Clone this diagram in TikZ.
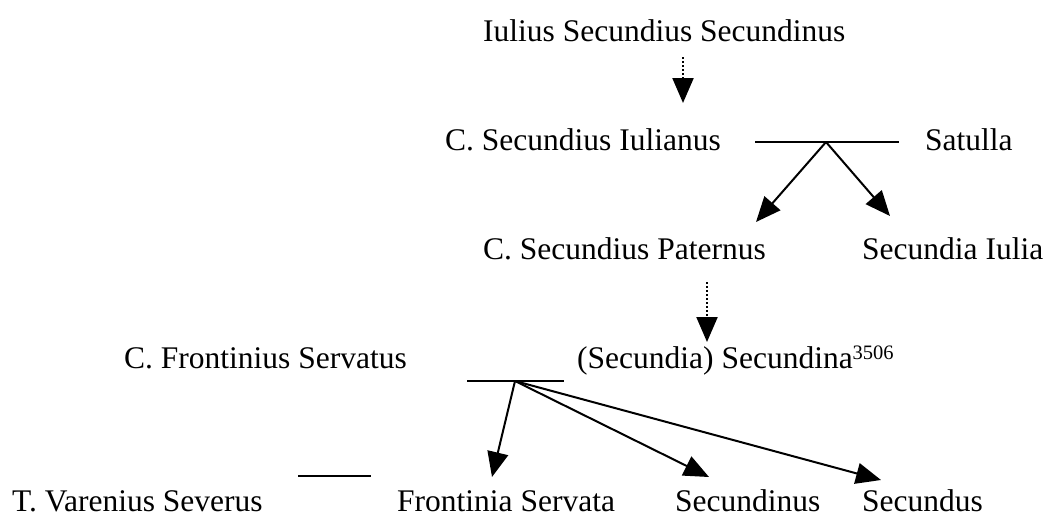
\documentclass[tikz,border=0pt]{standalone}
\usepackage{fontspec}
\setmainfont{Liberation Serif}
\usetikzlibrary{arrows.meta}
\begin{document}
\begin{tikzpicture}[x=1pt,y=-1pt,
  person/.style={anchor=base west, inner sep=0pt, font=\fontsize{31.5}{36}\selectfont},
  rel/.style={line width=2pt},
  child/.style={line width=2pt, -{Triangle[length=25pt,width=21pt]}},
  descent/.style={line width=2.2pt, dash pattern=on 2pt off 2pt, -{Triangle[length=25pt,width=21pt]}}]
\useasboundingbox (0,0) rectangle (1048,517);
% people
\node[person] (iss) at (483,41) {Iulius Secundius Secundinus};
\node[person] (csi) at (445,150) {C. Secundius Iulianus};
\node[person] (sat) at (925,150) {Satulla};
\node[person] (csp) at (483,259) {C. Secundius Paternus};
\node[person] (sei) at (862,259) {Secundia Iulia};
\node[person] (cfs) at (124,368) {C. Frontinius Servatus};
\node[person] (sse) at (577,368) {(Secundia) Secundina\raisebox{9pt}{\fontsize{20.5}{22}\selectfont 3506}};
\node[person] (tvs) at (12,511) {T. Varenius Severus};
\node[person] (fse) at (397,511) {Frontinia Servata};
\node[person] (sdn) at (675,511) {Secundinus};
\node[person] (sds) at (862,511) {Secundus};
% coordinates
\coordinate (d1s) at (683,57);
\coordinate (d1e) at (683,103);
\coordinate (m1a) at (755,142);
\coordinate (m1b) at (899,142);
\coordinate (j1) at (826,142);
\coordinate (t1a) at (756,222);
\coordinate (t1b) at (890,216);
\coordinate (d2s) at (707,282);
\coordinate (d2e) at (707,342);
\coordinate (m2a) at (467,381);
\coordinate (m2b) at (564,381);
\coordinate (j2) at (515,381);
\coordinate (t2a) at (492,477);
\coordinate (t2b) at (709,477);
\coordinate (t2c) at (881,480);
\coordinate (m3a) at (298,476);
\coordinate (m3b) at (371,476);
% connectors
\draw[descent] (d1s) -- (d1e);
\draw[rel] (m1a) -- (m1b);
\draw[child] (j1) -- (t1a);
\draw[child] (j1) -- (t1b);
\draw[descent] (d2s) -- (d2e);
\draw[rel] (m2a) -- (m2b);
\draw[child] (j2) -- (t2a);
\draw[child] (j2) -- (t2b);
\draw[child] (j2) -- (t2c);
\draw[rel] (m3a) -- (m3b);
\end{tikzpicture}
\end{document}
